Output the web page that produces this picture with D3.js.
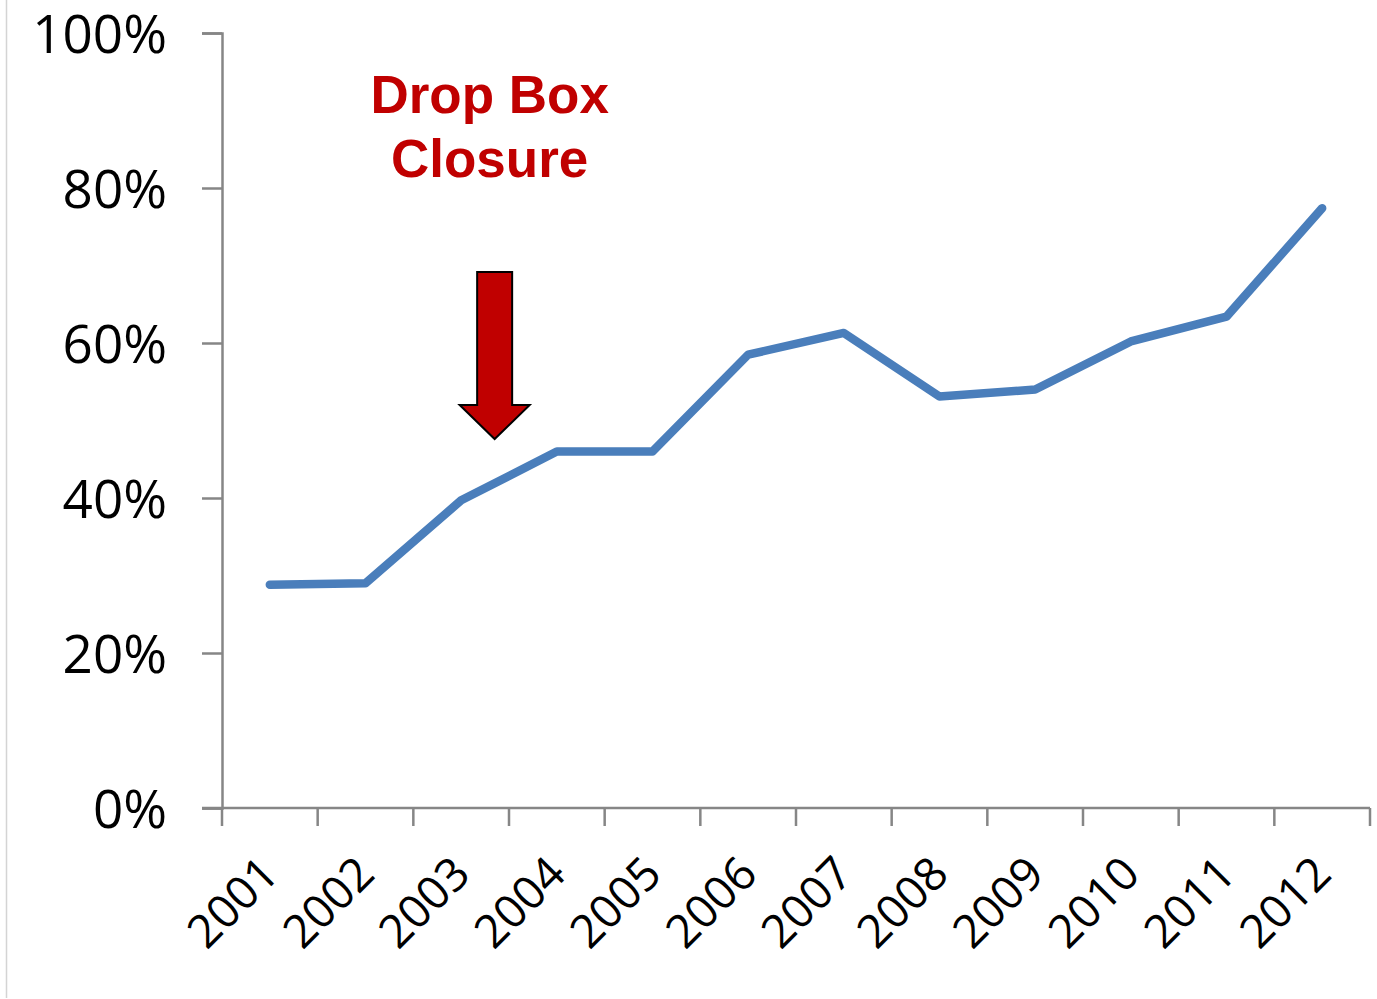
<!DOCTYPE html>
<html>
<head>
<meta charset="utf-8">
<script src="https://cdn.jsdelivr.net/npm/d3@7"></script>
<style>
  html, body { margin: 0; padding: 0; background: #fff; }
  svg { display: block; }
</style>
</head>
<body>
<svg id="chart" width="1377" height="999"></svg>
<script>
// Share of ballots by year
const years = ["2001", "2002", "2003", "2004", "2005", "2006", "2007", "2008", "2009", "2010", "2011", "2012"];
const shares = [0.288, 0.290, 0.397, 0.460, 0.460, 0.585, 0.613, 0.531, 0.540, 0.602, 0.634, 0.774];
const yTicks = [0, 0.2, 0.4, 0.6, 0.8, 1.0];
const noteLines = ["Drop Box", "Closure"];
const noteYear = "2003";
const noteOffset = 0.35; // fraction of a band past the 2003 point

const svg = d3.select("#chart");
const margin = { left: 222, right: 1370, top: 33, bottom: 808 };

const x = d3.scaleBand().domain(years).range([margin.left, margin.right]).padding(0);
const y = d3.scaleLinear().domain([0, 1]).range([margin.bottom, margin.top]);

const axisColor = "#868686";

// thin frame line on the far left
svg.append("line")
  .attr("x1", 6.5).attr("x2", 6.5).attr("y1", 0).attr("y2", 998)
  .attr("stroke", "#d4d4d4").attr("stroke-width", 1.5);

// Y axis
const yAxis = svg.append("g")
  .attr("transform", `translate(${margin.left},0)`)
  .call(d3.axisLeft(y).tickValues(yTicks).tickFormat(d3.format(".0%")).tickSize(20).tickPadding(35));
yAxis.select(".domain").attr("stroke", axisColor).attr("stroke-width", 2.5);
yAxis.selectAll(".tick line").attr("stroke", axisColor).attr("stroke-width", 2.5);
yAxis.selectAll(".tick text")
  .attr("font-family", "'Open Sans', sans-serif")
  .attr("font-size", 53)
  .attr("fill", "#000")
  .attr("dy", "0.36em");

// X axis: ticks sit on band edges
const xAxisG = svg.append("g").attr("transform", `translate(0,${margin.bottom})`);
xAxisG.append("line")
  .attr("x1", margin.left - 20).attr("x2", margin.right)
  .attr("stroke", axisColor).attr("stroke-width", 2.5);
const edges = years.map(d => x(d)).concat([x(years[years.length - 1]) + x.bandwidth()]);
xAxisG.selectAll("line.tick")
  .data(edges)
  .join("line")
  .attr("class", "tick")
  .attr("x1", d => d).attr("x2", d => d)
  .attr("y1", 0).attr("y2", 18)
  .attr("stroke", axisColor).attr("stroke-width", 2.5);

svg.append("g").selectAll("text")
  .data(years)
  .join("text")
  .attr("transform", d => `translate(${x(d) + x.bandwidth() / 2},${margin.bottom + 57}) rotate(-45)`)
  .attr("text-anchor", "end")
  .attr("dy", "0.35em")
  .attr("font-family", "'Open Sans', sans-serif")
  .attr("font-size", 46)
  .attr("fill", "#000")
  .text(d => d);

// Series line
const line = d3.line()
  .x((d, i) => x(years[i]) + x.bandwidth() / 2)
  .y(d => y(d));

svg.append("path")
  .datum(shares)
  .attr("d", line)
  .attr("fill", "none")
  .attr("stroke", "#4A7EBB")
  .attr("stroke-width", 8.5)
  .attr("stroke-linejoin", "round")
  .attr("stroke-linecap", "round");

// Annotation: label and down arrow
const noteX = x(noteYear) + x.bandwidth() / 2 + x.bandwidth() * noteOffset;
const noteText = svg.append("text")
  .attr("x", noteX - 5)
  .attr("y", 113)
  .attr("text-anchor", "middle")
  .attr("font-family", "'Liberation Sans', Arial, sans-serif")
  .attr("font-weight", "bold")
  .attr("font-size", 53)
  .attr("fill", "#C00000");
noteText.selectAll("tspan")
  .data(noteLines)
  .join("tspan")
  .attr("x", noteX - 5)
  .attr("dy", (d, i) => i === 0 ? 0 : 64)
  .text(d => d);

// arrow geometry relative to its tip
const tipX = noteX, tipY = 439;
const shaftHalf = 17.5, headHalf = 35, headLen = 34, shaftTop = 272;
const arrowPts = [
  [tipX - shaftHalf, shaftTop],
  [tipX + shaftHalf, shaftTop],
  [tipX + shaftHalf, tipY - headLen],
  [tipX + headHalf, tipY - headLen],
  [tipX, tipY],
  [tipX - headHalf, tipY - headLen],
  [tipX - shaftHalf, tipY - headLen]
];
svg.append("path")
  .attr("d", d3.line()(arrowPts) + "Z")
  .attr("fill", "#C00000")
  .attr("stroke", "#000")
  .attr("stroke-width", 2)
  .attr("stroke-linejoin", "miter");
</script>
</body>
</html>
